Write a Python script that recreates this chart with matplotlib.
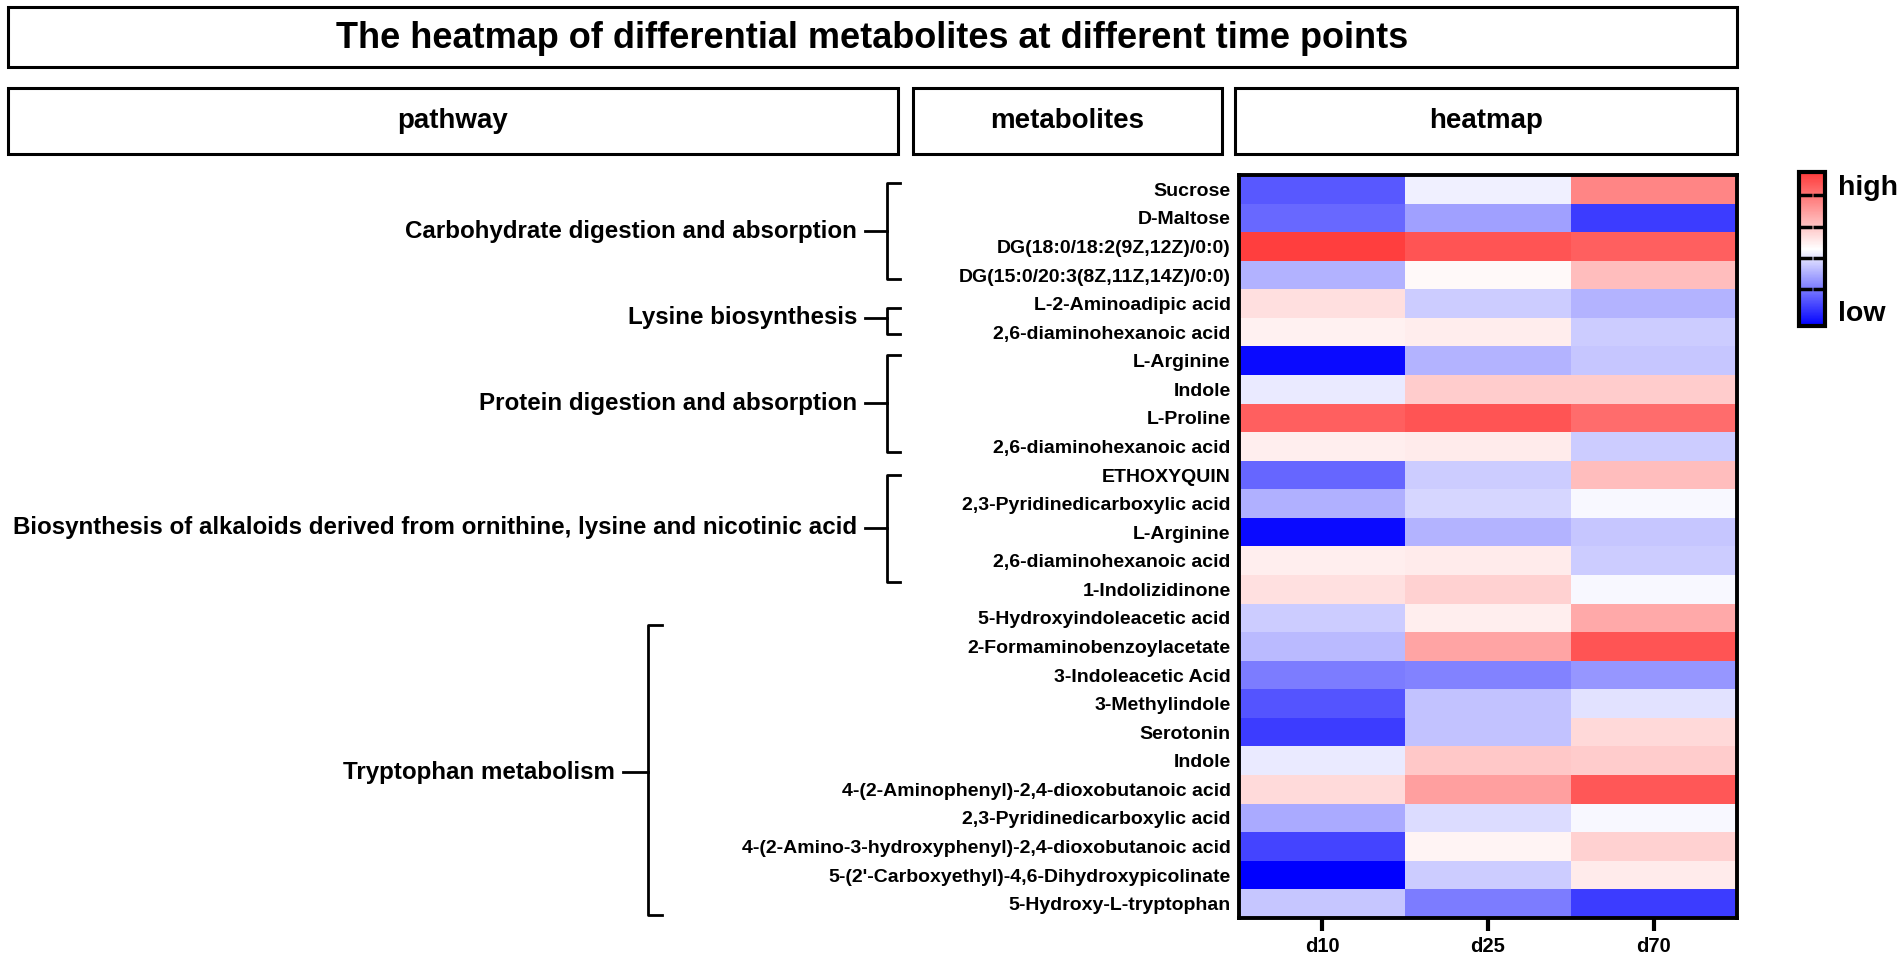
import numpy as np
import matplotlib
matplotlib.use("Agg")
import matplotlib.pyplot as plt
from matplotlib.colors import LinearSegmentedColormap
from matplotlib.patches import Rectangle
from matplotlib.lines import Line2D
from matplotlib.transforms import blended_transform_factory

plt.rcParams['font.family'] = ['Liberation Sans', 'DejaVu Sans']

# ---------------- data ----------------
title = "The heatmap of differential metabolites at different time points"
headers = ["pathway", "metabolites", "heatmap"]
timepoints = ["d10", "d25", "d70"]

metabolites = [
    "Sucrose", "D-Maltose", "DG(18:0/18:2(9Z,12Z)/0:0)", "DG(15:0/20:3(8Z,11Z,14Z)/0:0)",
    "L-2-Aminoadipic acid", "2,6-diaminohexanoic acid",
    "L-Arginine", "Indole", "L-Proline", "2,6-diaminohexanoic acid",
    "ETHOXYQUIN", "2,3-Pyridinedicarboxylic acid", "L-Arginine", "2,6-diaminohexanoic acid",
    "1-Indolizidinone",
    "5-Hydroxyindoleacetic acid", "2-Formaminobenzoylacetate", "3-Indoleacetic Acid",
    "3-Methylindole", "Serotonin", "Indole", "4-(2-Aminophenyl)-2,4-dioxobutanoic acid",
    "2,3-Pyridinedicarboxylic acid", "4-(2-Amino-3-hydroxyphenyl)-2,4-dioxobutanoic acid",
    "5-(2'-Carboxyethyl)-4,6-Dihydroxypicolinate", "5-Hydroxy-L-tryptophan",
]

d10 = [-0.65, -0.59, 0.97, -0.30, 0.16, 0.07, -0.96, -0.08, 0.81, 0.08,
       -0.60, -0.31, -0.96, 0.08, 0.15, -0.20, -0.27, -0.51, -0.67, -0.76,
       -0.08, 0.18, -0.33, -0.73, -1.00, -0.22]
d25 = [-0.06, -0.37, 0.86, 0.03, -0.20, 0.09, -0.29, 0.25, 0.86, 0.10,
       -0.20, -0.16, -0.29, 0.10, 0.23, 0.08, 0.46, -0.49, -0.24, -0.24,
       0.28, 0.48, -0.14, 0.05, -0.20, -0.51]
d70 = [0.61, -0.76, 0.81, 0.33, -0.29, -0.20, -0.22, 0.25, 0.74, -0.20,
       0.33, -0.03, -0.22, -0.20, -0.03, 0.43, 0.86, -0.41, -0.11, 0.19,
       0.25, 0.85, -0.03, 0.23, 0.10, -0.76]

pathways = [
    "Carbohydrate digestion and absorption",
    "Lysine biosynthesis",
    "Protein digestion and absorption",
    "Biosynthesis of alkaloids derived from ornithine, lysine and nicotinic acid",
    "Tryptophan metabolism",
]
# bracket extents in row units (top, bottom, label row)
bracket_top = [-0.22, 4.15, 5.80, 10.00, 15.25]
bracket_bottom = [3.14, 5.06, 9.19, 13.74, 25.40]
bracket_mid = [1.46, 4.50, 7.48, 11.85, 20.40]

colorbar_labels = ["high", "low"]
cbar_ticks = [-0.52, -0.12, 0.29, 0.70]

# ---------------- figure ----------------
W, H = 1902, 966
fig = plt.figure(figsize=(W / 100, H / 100), dpi=100)


def fx(x):
    return x / W


def fy(y):
    return 1 - y / H


def box(x0, y0, x1, y1):
    fig.add_artist(Rectangle((fx(x0), fy(y1)), (x1 - x0) / W, (y1 - y0) / H,
                             transform=fig.transFigure, fill=False,
                             lw=2.2, ec='black'))


# title + header boxes
box(8, 7, 1737, 67)
fig.text(fx(872), fy(38), title, ha='center', va='center',
         fontsize=26, fontweight='bold')
header_boxes = [(8, 898), (913, 1222), (1235, 1737)]
for (x0, x1), h in zip(header_boxes, headers):
    box(x0, 88, x1, 154)
    fig.text(fx((x0 + x1) / 2), fy(121), h, ha='center', va='center',
             fontsize=20, fontweight='bold')

# heatmap
cmap = LinearSegmentedColormap.from_list(
    "bwr_custom", ["#0000FF", "#FFFFFF", "#FF3A3A"])
data = np.array([d10, d25, d70]).T
ax = fig.add_axes([fx(1239), fy(918), (1737 - 1239) / W, (918 - 175) / H])
im = ax.imshow(data, cmap=cmap, vmin=-1, vmax=1, aspect='auto',
               interpolation='nearest')
ax.set_xticks(range(len(timepoints)))
ax.set_xticklabels(timepoints, fontsize=14.5, fontweight='bold')
ax.set_yticks(range(len(metabolites)))
ax.set_yticklabels(metabolites, fontsize=14, fontweight='bold')
ax.tick_params(axis='y', length=0, pad=6)
ax.tick_params(axis='x', length=9, width=3, pad=5)
for s in ax.spines.values():
    s.set_linewidth(2.8)

# pathway labels and brackets
trans = blended_transform_factory(fig.transFigure, ax.transData)
for i, name in enumerate(pathways):
    if i < 4:
        lx, dx0, vx, hx = 857, 865, 887, 900
    else:
        lx, dx0, vx, hx = 615, 623, 648, 662
    fig.text(fx(lx), bracket_mid[i], name, transform=trans, ha='right',
             va='center', fontsize=17.4, fontweight='bold')
    pts_x = [fx(hx), fx(vx), fx(vx), fx(hx)]
    pts_y = [bracket_top[i], bracket_top[i], bracket_bottom[i], bracket_bottom[i]]
    fig.add_artist(Line2D(pts_x, pts_y, transform=trans, color='black', lw=2))
    fig.add_artist(Line2D([fx(dx0), fx(vx)], [bracket_mid[i], bracket_mid[i]],
                          transform=trans, color='black', lw=2))

# colorbar
cax = fig.add_axes([fx(1799), fy(326), 26 / W, (326 - 172) / H])
cb = fig.colorbar(im, cax=cax)
cb.set_ticks(cbar_ticks)
cax.tick_params(direction='in', left=True, right=True, length=9, width=2.5,
                labelright=False, labelleft=False)
cb.outline.set_linewidth(3)
fig.text(fx(1838), fy(188), colorbar_labels[0], ha='left', va='center',
         fontsize=20.5, fontweight='bold')
fig.text(fx(1838), fy(314), colorbar_labels[1], ha='left', va='center',
         fontsize=20.5, fontweight='bold')

fig.savefig("out.png", dpi=100)
